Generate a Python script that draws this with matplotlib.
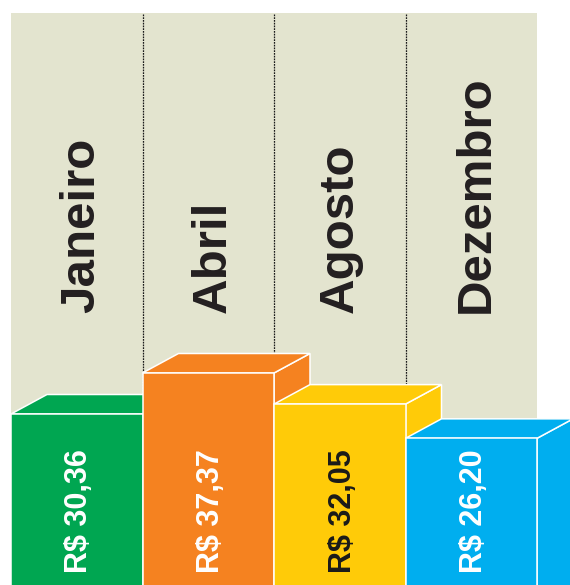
import matplotlib.pyplot as plt
from matplotlib.patches import Polygon, Rectangle

# data
months = ["Janeiro", "Abril", "Agosto", "Dezembro"]
prices = [30.36, 37.37, 32.05, 26.20]
bar_colors = ["#00a651", "#f58220", "#ffcb08", "#00aeef"]
label_colors = ["white", "white", "#1a1a1a", "white"]

# layout (pixels of the 570x585 picture)
W, H = 570, 585
PX_PER_REAL = 5.85      # vertical scale
BASE_PX = 591.6         # baseline sits a bit under the bottom edge
LEFT, COL_W = 11, 131.5
DEPTH_X, DEPTH_Y = 36, 19.5
PANEL_TOP = 13
PANEL_COLOR = "#e3e4cf"


def py(p):
    """pixel row -> data y"""
    return (BASE_PX - p) / PX_PER_REAL


fig = plt.figure(figsize=(W / 100, H / 100), dpi=100)
ax = fig.add_axes([0, 0, 1, 1])
ax.set_xlim(0, W)
ax.set_ylim(py(H), py(0))
ax.axis("off")

dy = DEPTH_Y / PX_PER_REAL
n = len(months)

# background panel
ax.add_patch(Rectangle((LEFT, py(H) - 5), COL_W * n, py(PANEL_TOP) - py(H) + 5,
                       facecolor=PANEL_COLOR, edgecolor="none", zorder=0))

# dotted separators
for i in range(1, n):
    x = LEFT + COL_W * i
    ax.plot([x, x], [py(H), py(PANEL_TOP)], color="#1a1a1a", lw=0.9,
            linestyle=(0, (1.4, 0.8)), zorder=1)

# month names
for i, m in enumerate(months):
    off = 79 if any(c in m for c in "gjpqy") else 83
    ax.text(LEFT + COL_W * i + off, py(313), m, rotation=90,
            rotation_mode="anchor", ha="left", va="baseline",
            fontsize=35.5, fontweight="bold", family="Liberation Sans",
            color="#231f20", zorder=2)

# 3d bars
for i, (v, c) in enumerate(zip(prices, bar_colors)):
    x0 = LEFT + COL_W * i
    x1 = x0 + COL_W
    z = 3 + i
    ec = dict(facecolor=c, edgecolor="white", lw=1.1, joinstyle="miter", zorder=z)
    ax.add_patch(Polygon([(x1, py(H) - 5), (x1, v), (x1 + DEPTH_X, v + dy),
                          (x1 + DEPTH_X, py(H) - 5)], **ec))
    ax.add_patch(Polygon([(x0, v), (x1, v), (x1 + DEPTH_X, v + dy),
                          (x0 + DEPTH_X, v + dy)], **ec))
    ax.add_patch(Rectangle((x0, py(H) - 5), COL_W, v - py(H) + 5, **ec))
    label = "R$ " + f"{v:.2f}".replace(".", ",")
    ax.text(x0 + 76.5, py(573), label, rotation=90, rotation_mode="anchor",
            ha="left", va="baseline", fontsize=22, fontweight="bold",
            family="Liberation Sans", color=label_colors[i], zorder=z)

fig.savefig("out.png", dpi=100, facecolor="white")
